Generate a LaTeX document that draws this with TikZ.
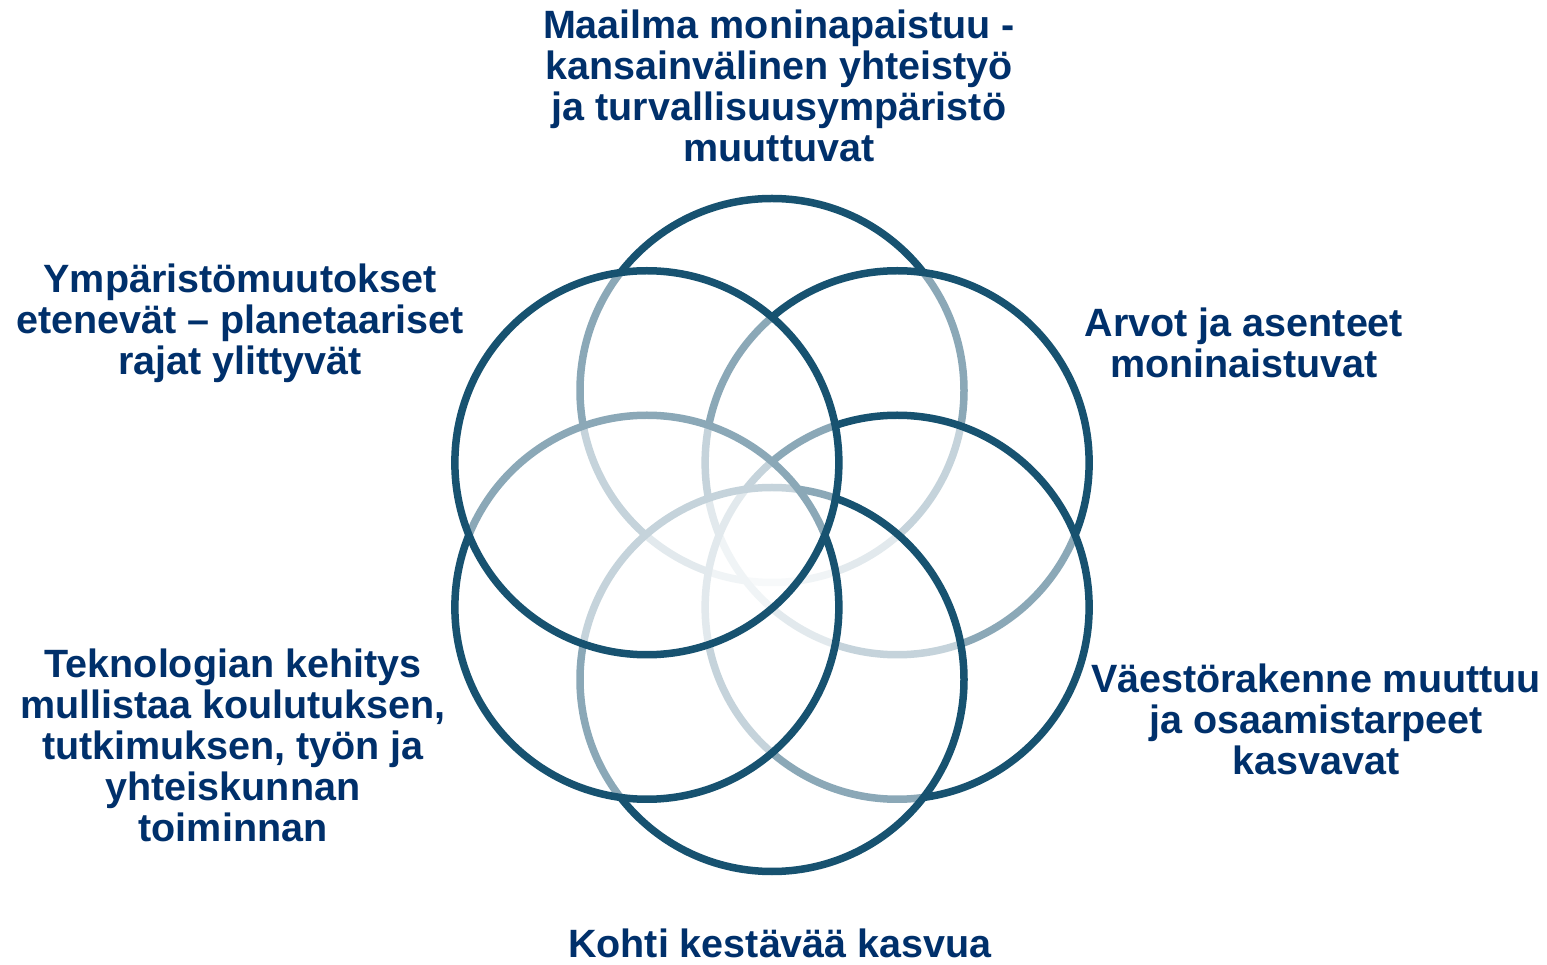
\documentclass[tikz,border=0pt]{standalone}
\usepackage{fontspec}
\setmainfont{Liberation Sans}
\definecolor{ringc}{HTML}{175270}
\definecolor{txtc}{HTML}{00306B}
\begin{document}
\begin{tikzpicture}[x=1pt,y=1pt,
  lbl/.style={font=\bfseries\fontsize{39.5}{41}\selectfont, text=txtc, align=center, inner sep=0pt},
  ringline/.style={draw=ringc, line width=7.5pt, fill=white, fill opacity=0.5, draw opacity=1}]
\useasboundingbox[fill=white] (0,0) rectangle (1547,964);
\coordinate (O) at (772,429);
\foreach \n/\a in {t/90, ur/30, lr/330, b/270, ll/210, ul/150}
  {\path (O) ++(\a:144.5) coordinate (c\n);}
\foreach \n in {t, ur, lr, b, ll, ul}
  {\filldraw[ringline] (c\n) circle[radius=192];}
\node[lbl] (top) at (779,878) {Maailma moninapaistuu -\\kansainvälinen yhteistyö\\ja turvallisuusympäristö\\muuttuvat};
\node[lbl] (ulab) at (240,641) {Ympäristömuutokset\\etenevät – planetaariset\\rajat ylittyvät};
\node[lbl] (urlab) at (1244,621) {Arvot ja asenteet\\moninaistuvat};
\node[lbl] (lllab) at (233,218.6) {Teknologian kehitys\\mullistaa koulutuksen,\\tutkimuksen, työn ja\\yhteiskunnan\\toiminnan};
\node[lbl] (lrlab) at (1316,244.7) {Väestörakenne muuttuu\\ja osaamistarpeet\\kasvavat};
\node[lbl, anchor=base] (blab) at (780,7) {Kohti kestävää kasvua};
\end{tikzpicture}
\end{document}
